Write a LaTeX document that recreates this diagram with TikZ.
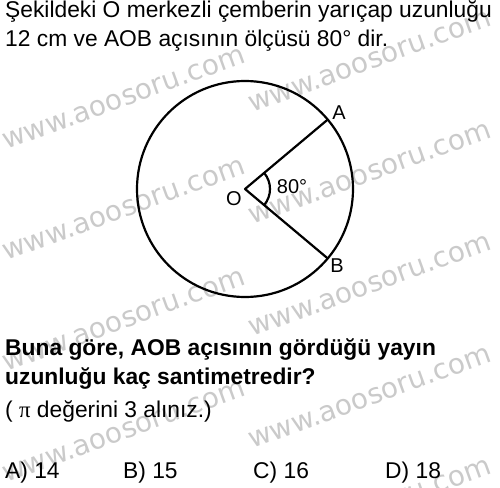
\documentclass[tikz,border=0pt]{standalone}
\usepackage{fontspec}
\setmainfont{Liberation Sans}
\newfontfamily\pifont{Liberation Serif}
\newfontfamily\wmfont{DejaVu Sans}
\definecolor{wmgray}{RGB}{202,202,202}
\begin{document}
\begin{tikzpicture}[x=1pt,y=-1pt,
  wm/.style={text=wmgray, font=\wmfont\fontsize{28}{28}\selectfont, rotate=20, anchor=base west, inner sep=0},
  txt/.style={anchor=base west, inner sep=0, font=\fontsize{22.8}{26}\selectfont},
  btxt/.style={anchor=base west, inner sep=0, font=\fontsize{22.8}{26}\selectfont\bfseries},
  lbl/.style={inner sep=0, font=\fontsize{20}{20}\selectfont},
  geo/.style={line width=2.2pt, line cap=round, line join=round}]
\useasboundingbox (0,0) rectangle (500,487);
% watermarks
\foreach \i/\yy in {1/150,2/261,3/372,4/483}
  \node[wm] (wl\i) at (6,\yy) {www.aoosoru.com};
\foreach \i/\yy in {1/113,2/225,3/337,4/449,5/561}
  \node[wm] (wr\i) at (252,\yy) {www.aoosoru.com};
% top text
\node[txt] (t1) at (5,18) {Şekildeki O merkezli çemberin yarıçap uzunluğu};
\node[txt] (t2) at (5,47) {12 cm ve AOB açısının ölçüsü 80° dir.};
% figure
\coordinate (O) at (245,189);
\coordinate (A) at (327.7,119.6);
\coordinate (B) at (327.7,258.4);
\draw[geo] (O) circle[radius=108];
\draw[geo] (A) -- (O) -- (B);
\draw[geo] (264.15,205.07) arc[start angle=40, end angle=-40, radius=25];
\node[lbl] (lA) at (339,113) {A};
\node[lbl] (lB) at (337,266) {B};
\node[lbl] (lO) at (234,199) {O};
\node[lbl] (ang) at (292,187) {80°};
% question
\node[btxt] (q1) at (5,355) {Buna göre, AOB açısının gördüğü yayın};
\node[btxt] (q2) at (5,384) {uzunluğu kaç santimetredir?};
\node[txt] (q3) at (5,417) {( {\pifont π} değerini 3 alınız.)};
% answers
\node[txt] (a1) at (5,478) {A) 14};
\node[txt] (a2) at (123,478) {B) 15};
\node[txt] (a3) at (253,478) {C) 16};
\node[txt] (a4) at (385,478) {D) 18};
\end{tikzpicture}
\end{document}
